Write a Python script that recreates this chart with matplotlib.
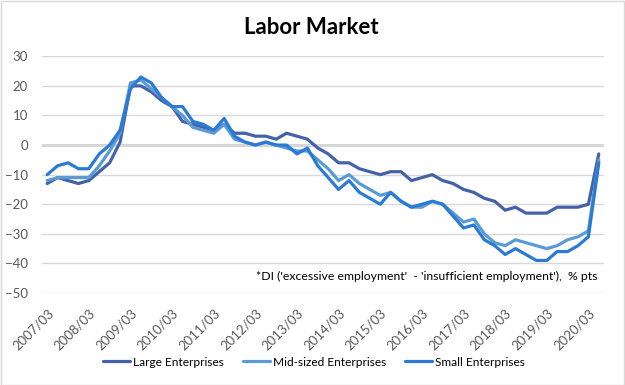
import matplotlib
matplotlib.use("Agg")
import matplotlib.pyplot as plt
from matplotlib.patches import Rectangle

plt.rcParams['font.family'] = ['Lato', 'DejaVu Sans']

# quarterly categories 2007/03 .. 2020/06
quarters = [f"{y}/{m:02d}" for y in range(2007, 2021) for m in (3, 6, 9, 12)][:54]
tick_labels = [q for q in quarters if q.endswith("/03")]

large = [-13, -11, -12, -13, -12, -9, -6, 1, 20, 20, 18, 15, 13, 8, 7, 6, 5, 7,
         4, 4, 3, 3, 2, 4, 3, 2, -1, -3, -6, -6, -8, -9, -10, -9, -9, -12, -11,
         -10, -12, -13, -15, -16, -18, -19, -22, -21, -23, -23, -23, -21, -21,
         -21, -20, -3]
mid = [-12, -11, -11, -11, -11, -7, -2, 4, 21, 22, 19, 16, 13, 10, 6, 5, 4, 7,
       2, 1, 0, 1, 0, -1, -2, -2, -5, -8, -12, -10, -13, -15, -17, -16, -19,
       -21, -21, -19, -20, -23, -26, -25, -30, -33, -34, -32, -33, -34, -35,
       -34, -32, -31, -29, -5]
small = [-10, -7, -6, -8, -8, -3, 0, 5, 19, 23, 21, 16, 13, 13, 8, 7, 5, 9,
         3, 1, 0, 1, 0, 0, -3, -1, -7, -11, -15, -12, -16, -18, -20, -16, -19,
         -21, -20, -19, -20, -24, -28, -27, -32, -34, -37, -35, -37, -39, -39,
         -36, -36, -34, -31, -6]

series = [("Large Enterprises", large, "#4462a9"),
          ("Mid-sized Enterprises", mid, "#5b9bd5"),
          ("Small Enterprises", small, "#2b7bd5")]

W, H = 625, 385
fig = plt.figure(figsize=(W / 100, H / 100), dpi=100)
ax = fig.add_axes([42 / W, 1 - 293 / H, (604 - 42) / W, (293 - 56.3) / H])

x = list(range(len(quarters)))
for name, vals, col in series:
    ax.plot(x, vals, color=col, lw=2.3, label=name, solid_joinstyle='round',
            solid_capstyle='round')

ax.set_xlim(-0.5, len(quarters) - 0.5)
ax.set_ylim(-50, 30)
ax.set_yticks(range(-50, 31, 10))
ax.grid(axis='y', color='#d9d9d9', lw=1)
ax.set_axisbelow(True)
ax.axhline(0, color='#d0d0d0', lw=2, zorder=0.5)
for s in ax.spines.values():
    s.set_visible(False)

tick_pos = [i for i, q in enumerate(quarters) if q.endswith("/03")]
ax.set_xticks(tick_pos)
ax.set_xticklabels(tick_labels, rotation=45, ha='right', va='top',
                   rotation_mode='anchor')
ax.tick_params(axis='both', length=0, labelsize=9.5, colors='#595959')
ax.tick_params(axis='y', pad=10)
ax.tick_params(axis='x', pad=10)

ax.text(0.988, 0.045, "*DI ('excessive employment'  - 'insufficient employment'),  % pts",
        transform=ax.transAxes, ha='right', va='bottom', fontsize=8.8,
        color='#000000')

fig.text(311 / W, 1 - 27 / H, "Labor Market", ha='center', va='center',
         fontsize=16, fontweight='bold', color='#000000')

fig.legend(loc='center', bbox_to_anchor=(0.502, 1 - 362 / H), ncol=3,
           frameon=False, fontsize=8.6, handlelength=2.3, handletextpad=0.2,
           columnspacing=1.6)

fig.patches.append(Rectangle((0.5 / W, 0.5 / H), 1 - 1.5 / W, 1 - 1.5 / H,
                             transform=fig.transFigure, fill=False,
                             edgecolor='#d9d9d9', lw=1))

fig.savefig("out.png", dpi=100)
